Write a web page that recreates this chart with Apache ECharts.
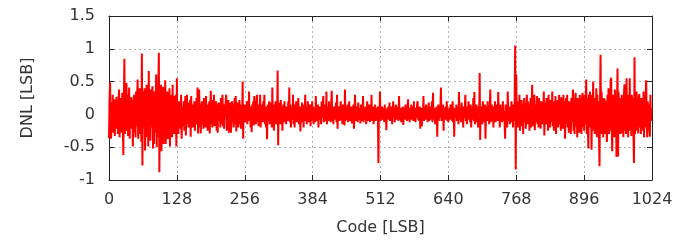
<!DOCTYPE html>
<html>
<head>
<meta charset="utf-8">
<script src="https://cdn.jsdelivr.net/npm/echarts@6/dist/echarts.min.js"></script>
<style>html,body{margin:0;padding:0;background:#fff}#c{width:680px;height:241px}</style>
</head>
<body>
<div id="c"></div>
<script>
// DNL values per code in blocks of 128 codes
const dnl_000_127 = [
-0.36,0.21,0.49,-0.12,-0.37,0.18,-0.2,0.3,-0.28,0.05,0.23,-0.33,0.12,-0.15,0.27,-0.22,
0.08,-0.3,0.2,0.38,-0.35,0.1,-0.18,0.25,-0.28,0.33,-0.1,-0.62,0.2,0.85,-0.3,0.15,
-0.25,0.48,-0.2,0.3,-0.33,0.12,0.41,-0.37,0.18,-0.22,0.26,-0.1,0.22,-0.49,0.15,0.3,
-0.28,0.1,-0.35,0.35,-0.18,0.25,0.53,-0.37,0.2,-0.3,0.4,-0.15,0.32,-0.42,0.93,-0.78,
0.35,-0.2,0.1,0.4,-0.55,0.3,-0.25,0.45,-0.35,0.2,-0.49,0.66,-0.3,0.25,-0.4,0.38,
-0.2,0.3,0.43,-0.52,0.15,-0.45,0.35,-0.28,0.2,0.61,-0.5,0.28,-0.35,0.4,0.94,-0.88,
0.3,-0.4,0.45,-0.56,0.25,-0.3,0.42,-0.45,0.2,-0.25,0.52,-0.45,0.3,-0.2,0.35,-0.38,
0.18,-0.3,0.4,-0.49,0.25,-0.15,0.3,-0.35,0.45,-0.25,0.2,-0.3,0.28,-0.18,0.3,-0.49
];
const dnl_128_255 = [
0.55,-0.2,0.15,-0.3,0.2,-0.12,0.1,-0.22,0.3,-0.37,0.12,0.05,-0.18,0.2,-0.25,0.1,
0.28,-0.32,0.15,0.3,-0.15,0.08,-0.2,0.18,-0.1,0.22,-0.34,0.28,-0.12,0.1,-0.2,0.15,
-0.08,0.2,-0.25,0.12,-0.15,0.25,-0.1,0.41,-0.29,0.1,0.38,-0.2,0.15,-0.29,0.05,0.2,
-0.15,0.12,-0.22,0.25,-0.1,0.18,-0.2,0.28,-0.12,0.1,-0.25,0.15,-0.05,0.2,-0.29,0.12,
0.36,-0.15,0.08,-0.2,0.22,-0.1,0.3,-0.18,0.1,-0.12,0.2,-0.25,0.15,-0.28,0.12,0.18,
-0.1,0.05,-0.2,0.25,-0.15,0.1,0.3,-0.18,0.08,-0.22,0.15,-0.05,0.2,0.3,-0.25,0.1,
-0.15,0.22,-0.28,0.12,-0.1,0.18,-0.28,0.05,0.2,-0.12,0.15,-0.2,0.1,0.25,-0.15,0.28,
-0.26,0.12,-0.08,0.18,-0.2,0.1,0.22,-0.15,0.05,-0.22,0.15,-0.1,0.5,-0.37,0.12,-0.1
];
const dnl_256_383 = [
0.15,-0.12,0.08,-0.05,0.2,-0.15,0.1,-0.08,0.35,-0.1,0.12,-0.2,0.05,-0.27,0.15,-0.1,
0.2,-0.17,0.28,-0.05,0.1,-0.15,0.18,0.3,-0.12,0.08,-0.18,0.15,-0.05,0.3,-0.2,0.1,
-0.08,0.15,-0.12,0.2,-0.05,0.3,-0.15,0.1,-0.2,0.12,-0.38,0.05,0.15,-0.1,0.2,-0.15,
0.08,-0.05,0.18,-0.2,0.41,-0.1,0.12,-0.25,0.15,-0.08,0.2,-0.15,0.1,-0.12,0.67,-0.47,
0.18,-0.05,0.08,-0.15,0.22,-0.1,0.12,-0.25,0.05,0.15,-0.12,0.2,-0.08,0.1,-0.15,0.12,
0.12,-0.1,0.2,-0.05,0.41,-0.12,0.15,-0.2,0.05,0.12,-0.08,0.3,-0.15,0.1,-0.2,0.15,
-0.05,0.2,-0.12,0.08,-0.1,0.25,-0.15,0.05,0.12,-0.26,0.1,-0.05,0.18,-0.12,0.08,-0.2,
0.15,-0.08,0.3,-0.1,0.12,-0.15,0.05,0.2,-0.12,0.1,-0.05,0.15,-0.18,0.08,-0.1,0.2
];
const dnl_384_511 = [
-0.08,0.12,-0.15,0.05,0.1,-0.12,0.28,-0.05,0.08,-0.1,0.15,-0.2,0.05,0.12,-0.08,0.1,
-0.15,0.2,-0.05,0.08,0.28,-0.12,0.1,-0.08,0.15,-0.1,0.35,-0.15,0.05,0.12,-0.1,0.2,
-0.05,0.08,-0.12,0.15,0.36,-0.1,0.05,-0.15,0.12,-0.05,0.1,-0.08,0.18,-0.12,0.3,-0.22,
0.08,-0.05,0.12,-0.1,0.05,0.2,-0.08,0.1,-0.15,0.15,-0.05,0.08,-0.17,0.38,-0.1,0.05,
0.12,-0.08,0.15,-0.12,0.05,0.2,-0.1,0.08,-0.05,0.12,-0.14,0.1,-0.08,0.15,-0.22,0.05,
0.3,-0.1,0.12,-0.05,0.08,-0.12,0.18,-0.08,0.05,0.1,-0.14,0.15,-0.05,0.08,-0.1,0.28,
-0.12,0.05,0.1,-0.08,0.12,-0.15,0.05,0.2,-0.1,0.08,-0.05,0.15,-0.12,0.1,-0.08,0.3,
-0.1,0.05,0.12,-0.15,0.08,-0.05,0.15,-0.1,0.05,0.1,-0.08,0.12,-0.74,0.1,-0.05,0.35
];
const dnl_512_639 = [
-0.1,0.08,-0.05,0.12,-0.08,0.05,0.1,-0.12,0.15,-0.05,0.08,-0.24,0.05,0.1,-0.08,0.12,
-0.05,0.18,-0.1,0.05,-0.08,0.12,-0.15,0.08,0.2,-0.05,0.1,-0.12,0.05,0.15,-0.08,0.1,
-0.05,0.12,-0.1,0.28,-0.08,0.05,0.1,-0.12,0.08,-0.05,0.12,-0.16,0.05,0.1,-0.08,0.15,
-0.05,0.08,-0.1,0.12,0.23,-0.08,0.05,-0.12,0.1,-0.05,0.15,-0.08,0.05,0.12,-0.1,0.2,
-0.05,0.08,-0.12,0.1,-0.05,0.15,0.2,-0.08,0.05,-0.1,0.12,-0.22,0.05,0.1,-0.18,0.08,
-0.05,0.28,-0.1,0.05,0.12,-0.08,0.15,-0.05,0.1,-0.12,0.08,0.18,-0.1,0.05,-0.08,0.12,
-0.05,0.2,-0.12,0.33,-0.08,0.05,0.1,-0.15,0.08,-0.05,0.12,-0.34,0.05,0.15,-0.1,0.08,
-0.05,0.12,0.41,-0.1,0.05,-0.08,0.15,-0.25,0.1,0.05,-0.08,0.12,-0.05,0.2,-0.1,0.08
];
const dnl_640_767 = [
-0.12,0.05,0.1,-0.08,0.15,-0.05,0.08,-0.1,0.2,-0.12,0.05,-0.34,0.1,0.08,-0.05,0.15,
-0.1,0.05,0.12,-0.15,0.34,-0.08,0.05,0.1,-0.12,0.18,-0.05,0.08,-0.2,0.12,-0.05,0.1,
0.3,-0.1,0.05,-0.15,0.12,-0.08,0.2,-0.05,0.1,-0.12,0.15,-0.2,0.05,0.12,-0.08,0.25,
-0.1,0.34,-0.15,0.08,-0.05,0.15,-0.12,0.1,-0.2,0.12,-0.1,0.63,-0.39,0.1,-0.05,0.12,
-0.15,0.2,-0.08,0.1,-0.12,0.15,-0.37,0.05,0.12,-0.1,0.2,-0.08,0.05,-0.15,0.1,0.38,
-0.12,0.05,0.15,-0.1,0.08,-0.2,0.12,-0.05,0.2,-0.12,0.1,-0.08,0.15,-0.1,0.34,-0.05,
0.1,-0.2,0.15,-0.08,0.05,-0.12,0.1,0.2,-0.1,0.05,-0.12,-0.37,0.15,-0.08,0.1,-0.2,
0.35,-0.1,0.05,0.12,-0.15,0.08,-0.05,0.2,-0.12,0.1,-0.2,0.15,-0.1,0.2,1.05,-0.84
];
const dnl_768_895 = [
0.61,-0.15,0.1,-0.2,0.2,-0.1,0.3,-0.25,0.12,-0.08,0.22,-0.18,0.15,-0.3,0.1,0.25,
-0.12,0.18,-0.22,0.08,0.3,-0.15,0.2,-0.1,0.15,-0.25,0.1,0.25,-0.2,0.12,0.45,-0.18,
0.2,-0.1,0.3,-0.24,0.15,-0.12,0.08,0.28,-0.15,0.1,-0.2,0.25,-0.1,0.15,-0.22,0.2,
-0.12,0.2,-0.15,0.1,0.35,-0.32,0.1,0.18,-0.15,0.25,-0.08,0.12,-0.25,0.3,-0.1,0.15,
-0.2,0.22,-0.12,0.08,0.35,-0.18,0.12,-0.25,0.2,-0.1,0.28,-0.3,0.15,-0.12,0.22,-0.2,
0.1,0.3,-0.15,0.2,-0.25,0.26,-0.1,0.15,-0.22,0.3,-0.12,0.2,-0.37,0.1,0.25,-0.15,
0.3,-0.2,0.12,-0.28,0.2,-0.1,0.15,-0.3,0.25,-0.12,0.2,0.38,-0.25,0.1,-0.3,0.22,
0.33,-0.18,0.12,-0.35,0.25,-0.1,0.2,-0.28,0.3,-0.15,0.12,-0.3,0.25,0.33,-0.2,0.15
];
const dnl_896_1023 = [
-0.25,0.3,-0.15,0.2,0.53,-0.3,0.25,-0.2,-0.52,0.3,-0.1,0.35,-0.2,0.15,-0.54,0.3,
-0.25,0.5,-0.15,0.2,-0.3,0.25,-0.2,0.4,-0.35,0.3,-0.15,0.2,-0.3,-0.79,0.2,0.91,
-0.3,0.35,-0.2,0.15,-0.35,0.25,-0.1,0.23,-0.3,0.2,-0.15,-0.42,0.3,-0.2,0.4,-0.3,
0.15,-0.25,0.51,0.56,-0.2,-0.56,0.3,-0.2,0.25,-0.35,0.38,-0.15,0.3,-0.65,0.2,0.7,
-0.64,0.35,-0.2,0.25,-0.3,0.15,-0.29,0.3,-0.1,0.2,-0.35,0.3,0.46,-0.25,0.2,-0.3,
0.55,-0.2,0.25,-0.35,0.3,-0.15,0.55,-0.25,0.2,-0.33,0.3,-0.15,0.25,-0.3,-0.74,0.87,
-0.3,0.2,-0.25,0.35,-0.15,0.2,-0.29,0.25,0.31,-0.2,0.15,-0.3,0.25,-0.15,0.2,-0.25,
0.35,-0.35,0.15,-0.2,0.3,0.52,-0.1,-0.35,0.2,-0.25,0.15,-0.2,-0.34,0.3,-0.1,0.1
];

const xTicks = [0,128,256,384,512,640,768,896,1024];
const yTicks = [-1,-0.5,0,0.5,1,1.5];

const blocks = [dnl_000_127,dnl_128_255,dnl_256_383,dnl_384_511,dnl_512_639,dnl_640_767,dnl_768_895,dnl_896_1023];
const dnl = [].concat(...blocks);
const seriesData = dnl.map((v,i)=>[i,v]);

const font = 'DejaVu Sans';
const txt = '#333';
const gridLine = {show:true,lineStyle:{color:'#b0b0b0',type:[2,3],width:1}};
const axLine = {show:true,onZero:false,lineStyle:{color:'#222',width:1}};
const tick = {show:true,inside:true,length:5,lineStyle:{color:'#222'}};

const chart = echarts.init(document.getElementById('c'),null,{renderer:'canvas'});
chart.setOption({
  animation:false,
  backgroundColor:'#fff',
  grid:{left:109,right:28,top:16,bottom:59,containLabel:false},
  xAxis:[{
    type:'value',min:xTicks[0],max:xTicks[xTicks.length-1],interval:128,
    name:'Code [LSB]',nameLocation:'middle',nameGap:40,
    nameTextStyle:{fontFamily:font,fontSize:16,color:txt},
    axisLine:axLine,axisTick:tick,
    axisLabel:{fontFamily:font,fontSize:16,color:txt,margin:12,formatter:v=>String(v)},
    splitLine:gridLine
  },{
    type:'value',position:'top',min:0,max:1024,interval:128,
    axisLine:axLine,axisTick:tick,
    axisLabel:{show:false},splitLine:{show:false}
  }],
  yAxis:[{
    type:'value',min:yTicks[0],max:yTicks[yTicks.length-1],interval:0.5,
    name:'DNL [LSB]',nameLocation:'middle',nameGap:73,
    nameTextStyle:{fontFamily:font,fontSize:16,color:txt},
    axisLine:axLine,axisTick:tick,
    axisLabel:{fontFamily:font,fontSize:16,color:txt,margin:14,formatter:v=>String(v)},
    splitLine:gridLine
  },{
    type:'value',position:'right',min:-1,max:1.5,interval:0.5,
    axisLine:axLine,axisTick:tick,
    axisLabel:{show:false},splitLine:{show:false}
  }],
  series:[{
    type:'line',data:seriesData,showSymbol:false,symbol:'none',
    lineStyle:{color:'#ff0000',width:2},
    xAxisIndex:0,yAxisIndex:0,z:3
  }]
});
</script>
</body>
</html>
